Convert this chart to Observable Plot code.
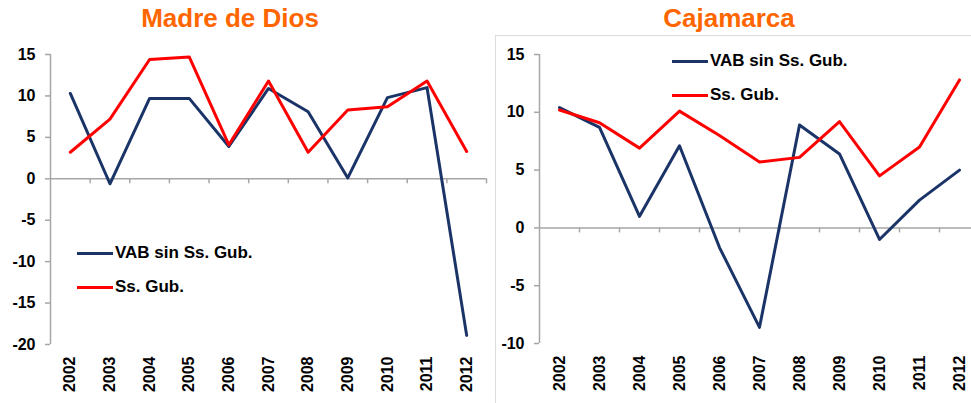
<!DOCTYPE html>
<html>
<head>
<meta charset="utf-8">
<script src="https://cdn.jsdelivr.net/npm/d3@7"></script>
<script src="https://cdn.jsdelivr.net/npm/@observablehq/plot@0.6"></script>
<style>
  html, body { margin: 0; padding: 0; background: #fff; }
  #wrap { position: relative; width: 971px; height: 403px; overflow: hidden; font-family: "Liberation Sans", Arial, sans-serif; }
  .title { position: absolute; top: 3px; font-size: 26px; line-height: 30px; font-weight: bold; color: #ff6600; white-space: nowrap; text-align: center; width: 240px; }
  .panel { position: absolute; top: 0; }
  .frame { position: absolute; left: 495px; top: 35px; width: 490px; height: 390px; border: 1.5px solid #dcdcdc; box-sizing: border-box; }
  .leg { position: absolute; display: flex; align-items: center; height: 20px; font-size: 17px; font-weight: bold; color: #000; white-space: nowrap; }
  .leg .ln { display: inline-block; width: 36px; height: 3px; margin-right: 2px; }
</style>
</head>
<body>
<div id="wrap">
  <div class="frame"></div>
  <div class="panel" id="left"></div>
  <div class="panel" id="right" style="left:485px"></div>
  <div class="title" id="t1" style="left:110px"></div>
  <div class="title" id="t2" style="left:609px"></div>
  <div class="leg" id="l1a" style="left:77px; top:243px"></div>
  <div class="leg" id="l1b" style="left:77px; top:277px"></div>
  <div class="leg" id="l2a" style="left:672px; top:51px"></div>
  <div class="leg" id="l2b" style="left:672px; top:85px"></div>
</div>
<script>
const years = [2002, 2003, 2004, 2005, 2006, 2007, 2008, 2009, 2010, 2011, 2012];
const titles = ["Madre de Dios", "Cajamarca"];
const seriesNames = ["VAB sin Ss. Gub.", "Ss. Gub."];
const seriesColors = ["#1b3468", "#ff0000"];

// Madre de Dios
const mddVab = [10.3, -0.6, 9.7, 9.7, 3.9, 10.9, 8.1, 0.1, 9.8, 11.0, -18.9];
const mddGub = [3.2, 7.2, 14.4, 14.7, 4.1, 11.8, 3.2, 8.3, 8.7, 11.8, 3.3];
const mddTicks = [15, 10, 5, 0, -5, -10, -15, -20];

// Cajamarca
const cajVab = [10.4, 8.7, 1.0, 7.1, -1.7, -8.6, 8.9, 6.4, -1.0, 2.4, 5.0];
const cajGub = [10.2, 9.1, 6.9, 10.1, 8.0, 5.7, 6.1, 9.2, 4.5, 7.0, 12.8];
const cajTicks = [15, 10, 5, 0, -5, -10];

const axisGray = "#a6a6a6";

function panel({vab, gub, ticks, width, marginLeft, marginRight, marginBottom, xMax}) {
  const data = years.map((yr, i) => ({year: yr, vab: vab[i], gub: gub[i]}));
  const xMin = years[0] - 0.5;
  const bounds = years.map(y => y + 0.5).filter(b => b <= xMax);
  const yDomain = [d3.min(ticks), d3.max(ticks)];
  return Plot.plot({
    width, height: 403,
    marginLeft, marginRight, marginTop: 54, marginBottom,
    x: {type: "linear", domain: [xMin, xMax]},
    y: {domain: yDomain},
    style: {fontFamily: '"Liberation Sans", Arial, sans-serif', background: "transparent", color: "#000"},
    marks: [
      Plot.ruleX([xMin], {y1: yDomain[0], y2: yDomain[1], stroke: axisGray, strokeWidth: 1.5}),
      Plot.ruleY(ticks, {x1: xMin, x2: xMin, insetLeft: -5, stroke: axisGray, strokeWidth: 1.5}),
      Plot.ruleY([0], {x1: xMin, x2: xMax, stroke: axisGray, strokeWidth: 1.5}),
      Plot.ruleX(bounds, {y1: 0, y2: 0, insetBottom: -5, stroke: axisGray, strokeWidth: 1.5}),
      Plot.axisY({ticks, tickSize: 0, tickPadding: 15, label: null, fontSize: 16, fontWeight: "bold", tickFormat: d => String(d)}),
      Plot.axisX({ticks: years, tickSize: 0, tickPadding: 12, tickRotate: -90, label: null, fontSize: 16, fontWeight: "bold", tickFormat: d => String(d)}),
      Plot.lineY(data, {x: "year", y: "vab", stroke: seriesColors[0], strokeWidth: 3}),
      Plot.lineY(data, {x: "year", y: "gub", stroke: seriesColors[1], strokeWidth: 3})
    ]
  });
}

document.getElementById("left").append(panel({
  vab: mddVab, gub: mddGub, ticks: mddTicks,
  width: 490, marginLeft: 50, marginRight: 4, marginBottom: 59, xMax: 2012.5
}));
document.getElementById("right").append(panel({
  vab: cajVab, gub: cajGub, ticks: cajTicks,
  width: 486, marginLeft: 54, marginRight: 0, marginBottom: 60, xMax: 2012.3
}));

document.getElementById("t1").textContent = titles[0];
document.getElementById("t2").textContent = titles[1];

function legend(id, k) {
  const el = document.getElementById(id);
  const ln = document.createElement("span");
  ln.className = "ln";
  ln.style.background = seriesColors[k];
  const tx = document.createElement("span");
  tx.textContent = seriesNames[k];
  el.append(ln, tx);
}
legend("l1a", 0); legend("l1b", 1);
legend("l2a", 0); legend("l2b", 1);
</script>
</body>
</html>
